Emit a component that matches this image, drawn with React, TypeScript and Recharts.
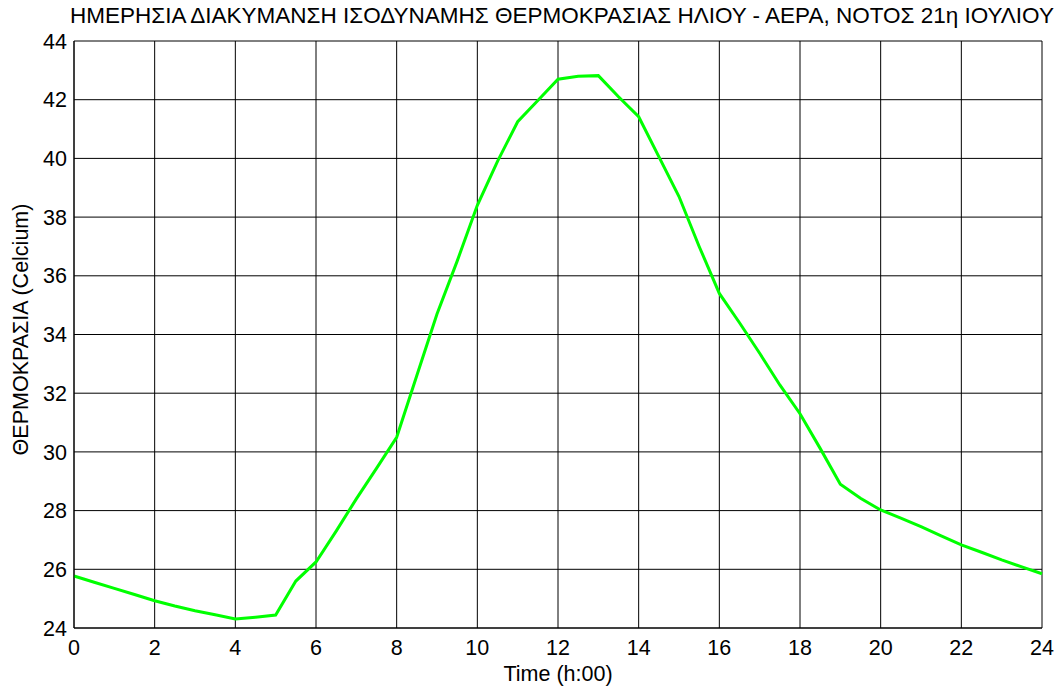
import React from 'react';
import { LineChart, Line, XAxis, YAxis, CartesianGrid } from 'recharts';

// half-hourly readings, 21 July, south facade
const hours = [
    0, 0.5, 1, 1.5, 2, 2.5, 3, 3.5, 4, 4.5, 5, 5.5, 6, 6.5, 7, 7.5, 8, 8.5, 9, 9.5, 10, 10.5, 11, 11.5,
    12, 12.5, 13, 13.5, 14, 14.5, 15, 15.5, 16, 16.5, 17, 17.5, 18, 18.5, 19, 19.5, 20, 20.5, 21, 21.5,
    22, 22.5, 23, 23.5, 24,
];
const temps = [
    25.77, 25.56, 25.35, 25.14, 24.93, 24.75, 24.59, 24.45, 24.31, 24.37, 24.44, 25.6, 26.25, 27.3, 28.4, 29.44,
    30.5, 32.6, 34.7, 36.5, 38.4, 39.9, 41.25, 41.97, 42.7, 42.8, 42.82, 42.1, 41.42, 40.06, 38.7, 37.0,
    35.4, 34.4, 33.36, 32.28, 31.3, 30.12, 28.9, 28.42, 28.02, 27.74, 27.45, 27.14, 26.83, 26.58, 26.32, 26.08,
    25.85,
];
const xTicks = [0, 2, 4, 6, 8, 10, 12, 14, 16, 18, 20, 22, 24];
const yTicks = [24, 26, 28, 30, 32, 34, 36, 38, 40, 42, 44];

const title = 'ΗΜΕΡΗΣΙΑ ΔΙΑΚΥΜΑΝΣΗ ΙΣΟΔΥΝΑΜΗΣ ΘΕΡΜΟΚΡΑΣΙΑΣ ΗΛΙΟΥ - ΑΕΡΑ, ΝΟΤΟΣ 21η ΙΟΥΛΙΟΥ';
const xLabel = 'Time (h:00)';
const yLabel = 'ΘΕΡΜΟΚΡΑΣΙΑ (Celcium)';

const data = hours.map((t, i) => ({ t, temp: temps[i] }));

const font = '"Liberation Sans", Arial, sans-serif';
const fs = 21.5;

const App: React.FC = () => {
    return (
        <div style={{ position: 'absolute', left: 0, top: 0, width: 1060, height: 688, background: '#fff', fontFamily: font }}>
            <div
                style={{
                    position: 'absolute',
                    top: 5,
                    left: 0,
                    width: 1124,
                    textAlign: 'center',
                    fontSize: 22.5,
                    lineHeight: '22.5px',
                    color: '#000',
                    whiteSpace: 'nowrap',
                }}
            >
                {title}
            </div>
            <LineChart
                width={1060}
                height={688}
                data={data}
                margin={{ top: 41, right: 18, left: 14, bottom: 0 }}
                style={{ fontFamily: font }}
            >
                <CartesianGrid stroke="#000" strokeWidth={1} />
                <XAxis
                    dataKey="t"
                    type="number"
                    domain={[0, 24]}
                    ticks={xTicks}
                    height={60}
                    tickLine={false}
                    tickSize={6}
                    tickMargin={6}
                    axisLine={{ stroke: '#000' }}
                    tick={{ fill: '#000', fontSize: fs }}
                    label={{ value: xLabel, position: 'insideBottom', offset: 7, fill: '#000', fontSize: fs }}
                />
                <YAxis
                    type="number"
                    domain={[24, 44]}
                    ticks={yTicks}
                    width={60}
                    tickLine={false}
                    tickMargin={1}
                    axisLine={{ stroke: '#000' }}
                    tick={{ fill: '#000', fontSize: fs }}
                    label={{
                        content: ({ viewBox }: any) => {
                            const x = viewBox.x + 13.5;
                            const y = viewBox.y + viewBox.height / 2 - 5;
                            return (
                                <text
                                    x={x}
                                    y={y}
                                    transform={`rotate(-90 ${x} ${y})`}
                                    textAnchor="middle"
                                    fontSize={fs}
                                    fill="#000"
                                >
                                    {yLabel}
                                </text>
                            );
                        },
                    }}
                />
                <Line
                    type="linear"
                    dataKey="temp"
                    stroke="#00ff00"
                    strokeWidth={3}
                    dot={false}
                    activeDot={false}
                    isAnimationActive={false}
                />
            </LineChart>
        </div>
    );
};

export default App;
